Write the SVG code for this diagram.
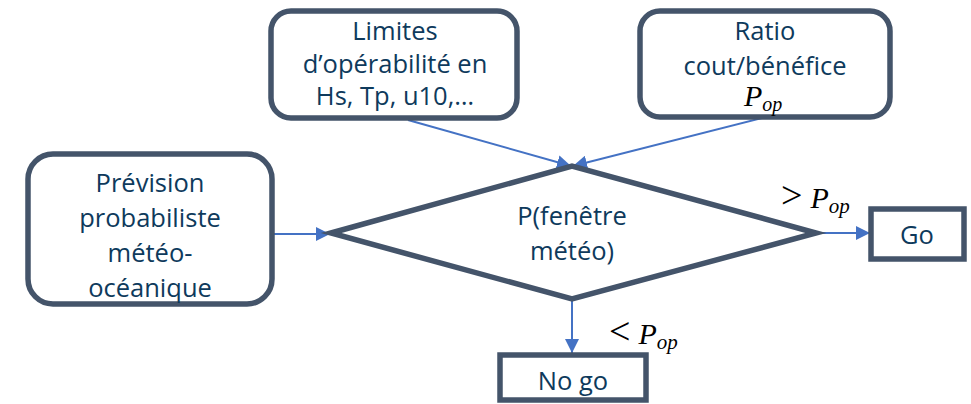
<svg xmlns="http://www.w3.org/2000/svg" width="971" height="404" viewBox="0 0 971 404">
<defs>
<style>
.box{fill:#fff;stroke:#44546A;stroke-width:5.5}
.t{font-family:"Open Sans","Noto Sans",sans-serif;font-size:25.5px;fill:#0E3A5C;text-anchor:middle}
.m{font-family:"Liberation Serif","DejaVu Serif",serif;font-style:italic;font-size:30px;fill:#000}
.r{font-style:normal;font-size:38px}
</style>
<marker id="ah2" viewBox="0 0 10 10" refX="10" refY="5" markerWidth="14" markerHeight="14" orient="auto" markerUnits="userSpaceOnUse">
<path d="M0,0 L10,5 L0,10 z" fill="#4472C4"/>
</marker>
</defs>
<g id="connectors" stroke="#4472C4" stroke-width="2" marker-end="url(#ah2)">
<line x1="408" y1="120" x2="571" y2="166"/>
<line x1="770" y1="116" x2="573" y2="166"/>
<line x1="272" y1="234" x2="330" y2="234"/>
<line x1="816" y1="233" x2="870" y2="233"/>
<line x1="572" y1="298" x2="572" y2="353"/>
</g>
<g id="limites">
<rect class="box" x="271" y="11" width="246" height="107" rx="20"/>
<text class="t" x="395" y="40">Limites</text>
<text class="t" x="395" y="73">d’opérabilité en</text>
<text class="t" x="395" y="105">Hs, Tp, u10,…</text>
</g>
<g id="ratio">
<rect class="box" x="640" y="11" width="250" height="106" rx="20"/>
<text class="t" x="765" y="40">Ratio</text>
<text class="t" x="765" y="75">cout/bénéfice</text>
<text class="m" x="744" y="106" font-size="28">P<tspan font-size="20" dy="5">op</tspan></text>
</g>
<g id="prevision">
<rect class="box" x="28" y="154" width="244" height="150" rx="25"/>
<text class="t" x="150" y="192">Prévision</text>
<text class="t" x="150" y="227">probabiliste</text>
<text class="t" x="150" y="262">météo-</text>
<text class="t" x="150" y="297">océanique</text>
</g>
<g id="decision">
<polygon points="331,233 572,166 816,233 572,299" fill="#fff" stroke="#44546A" stroke-width="5.5" stroke-linejoin="miter"/>
<text class="t" x="572" y="225">P(fenêtre</text>
<text class="t" x="572" y="260">météo)</text>
</g>
<g id="go">
<rect class="box" x="871" y="209" width="93" height="50"/>
<text class="t" x="917" y="244">Go</text>
<text class="m" x="781" y="208"><tspan class="r">&gt;</tspan><tspan dx="8">P</tspan><tspan font-size="21" dy="5">op</tspan></text>
</g>
<g id="nogo">
<rect class="box" x="500" y="355" width="146" height="45"/>
<text class="t" x="573" y="390">No go</text>
<text class="m" x="609" y="344"><tspan class="r">&lt;</tspan><tspan dx="8">P</tspan><tspan font-size="21" dy="5">op</tspan></text>
</g>
</svg>
